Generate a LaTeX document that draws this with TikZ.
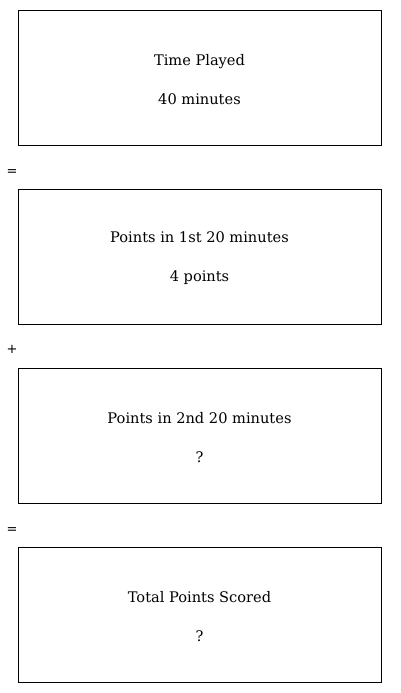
\documentclass[tikz,border=0pt]{standalone}
\usepackage{fontspec}
\setmainfont{DejaVu Serif}
\newfontfamily\opfont{DejaVu Sans}
\usetikzlibrary{positioning}

\tikzset{
    qbox/.style={draw, line width=0.8pt, minimum width=363pt, minimum height=135pt,
        align=center, inner sep=0pt, font=\fontsize{14.6}{39}\selectfont},
    opsign/.style={inner sep=0pt, font=\opfont\fontsize{13}{13}\selectfont}
}
\newcommand{\topstrut}{\rule{0pt}{15pt}}

\begin{document}
\begin{tikzpicture}[x=1pt, y=1pt]
    \useasboundingbox (0,0) rectangle (400,-693);

    % Boxes
    \node[qbox] (time) at (199.5,-77.5) {\topstrut Time Played\\40 minutes};
    \node[qbox, below=43.2pt of time] (first) {\topstrut Points in 1st 20 minutes\\4 points};
    \node[qbox, below=43.2pt of first] (second) {\topstrut Points in 2nd 20 minutes\\?};
    \node[qbox, below=43.2pt of second] (total) {\topstrut Total Points Scored\\?};

    % Operators
    \node[opsign] (eqa) at (12,-173) {=};
    \node[opsign] (plus) at (12,-349) {+};
    \node[opsign] (eqb) at (12,-531) {=};
\end{tikzpicture}
\end{document}
